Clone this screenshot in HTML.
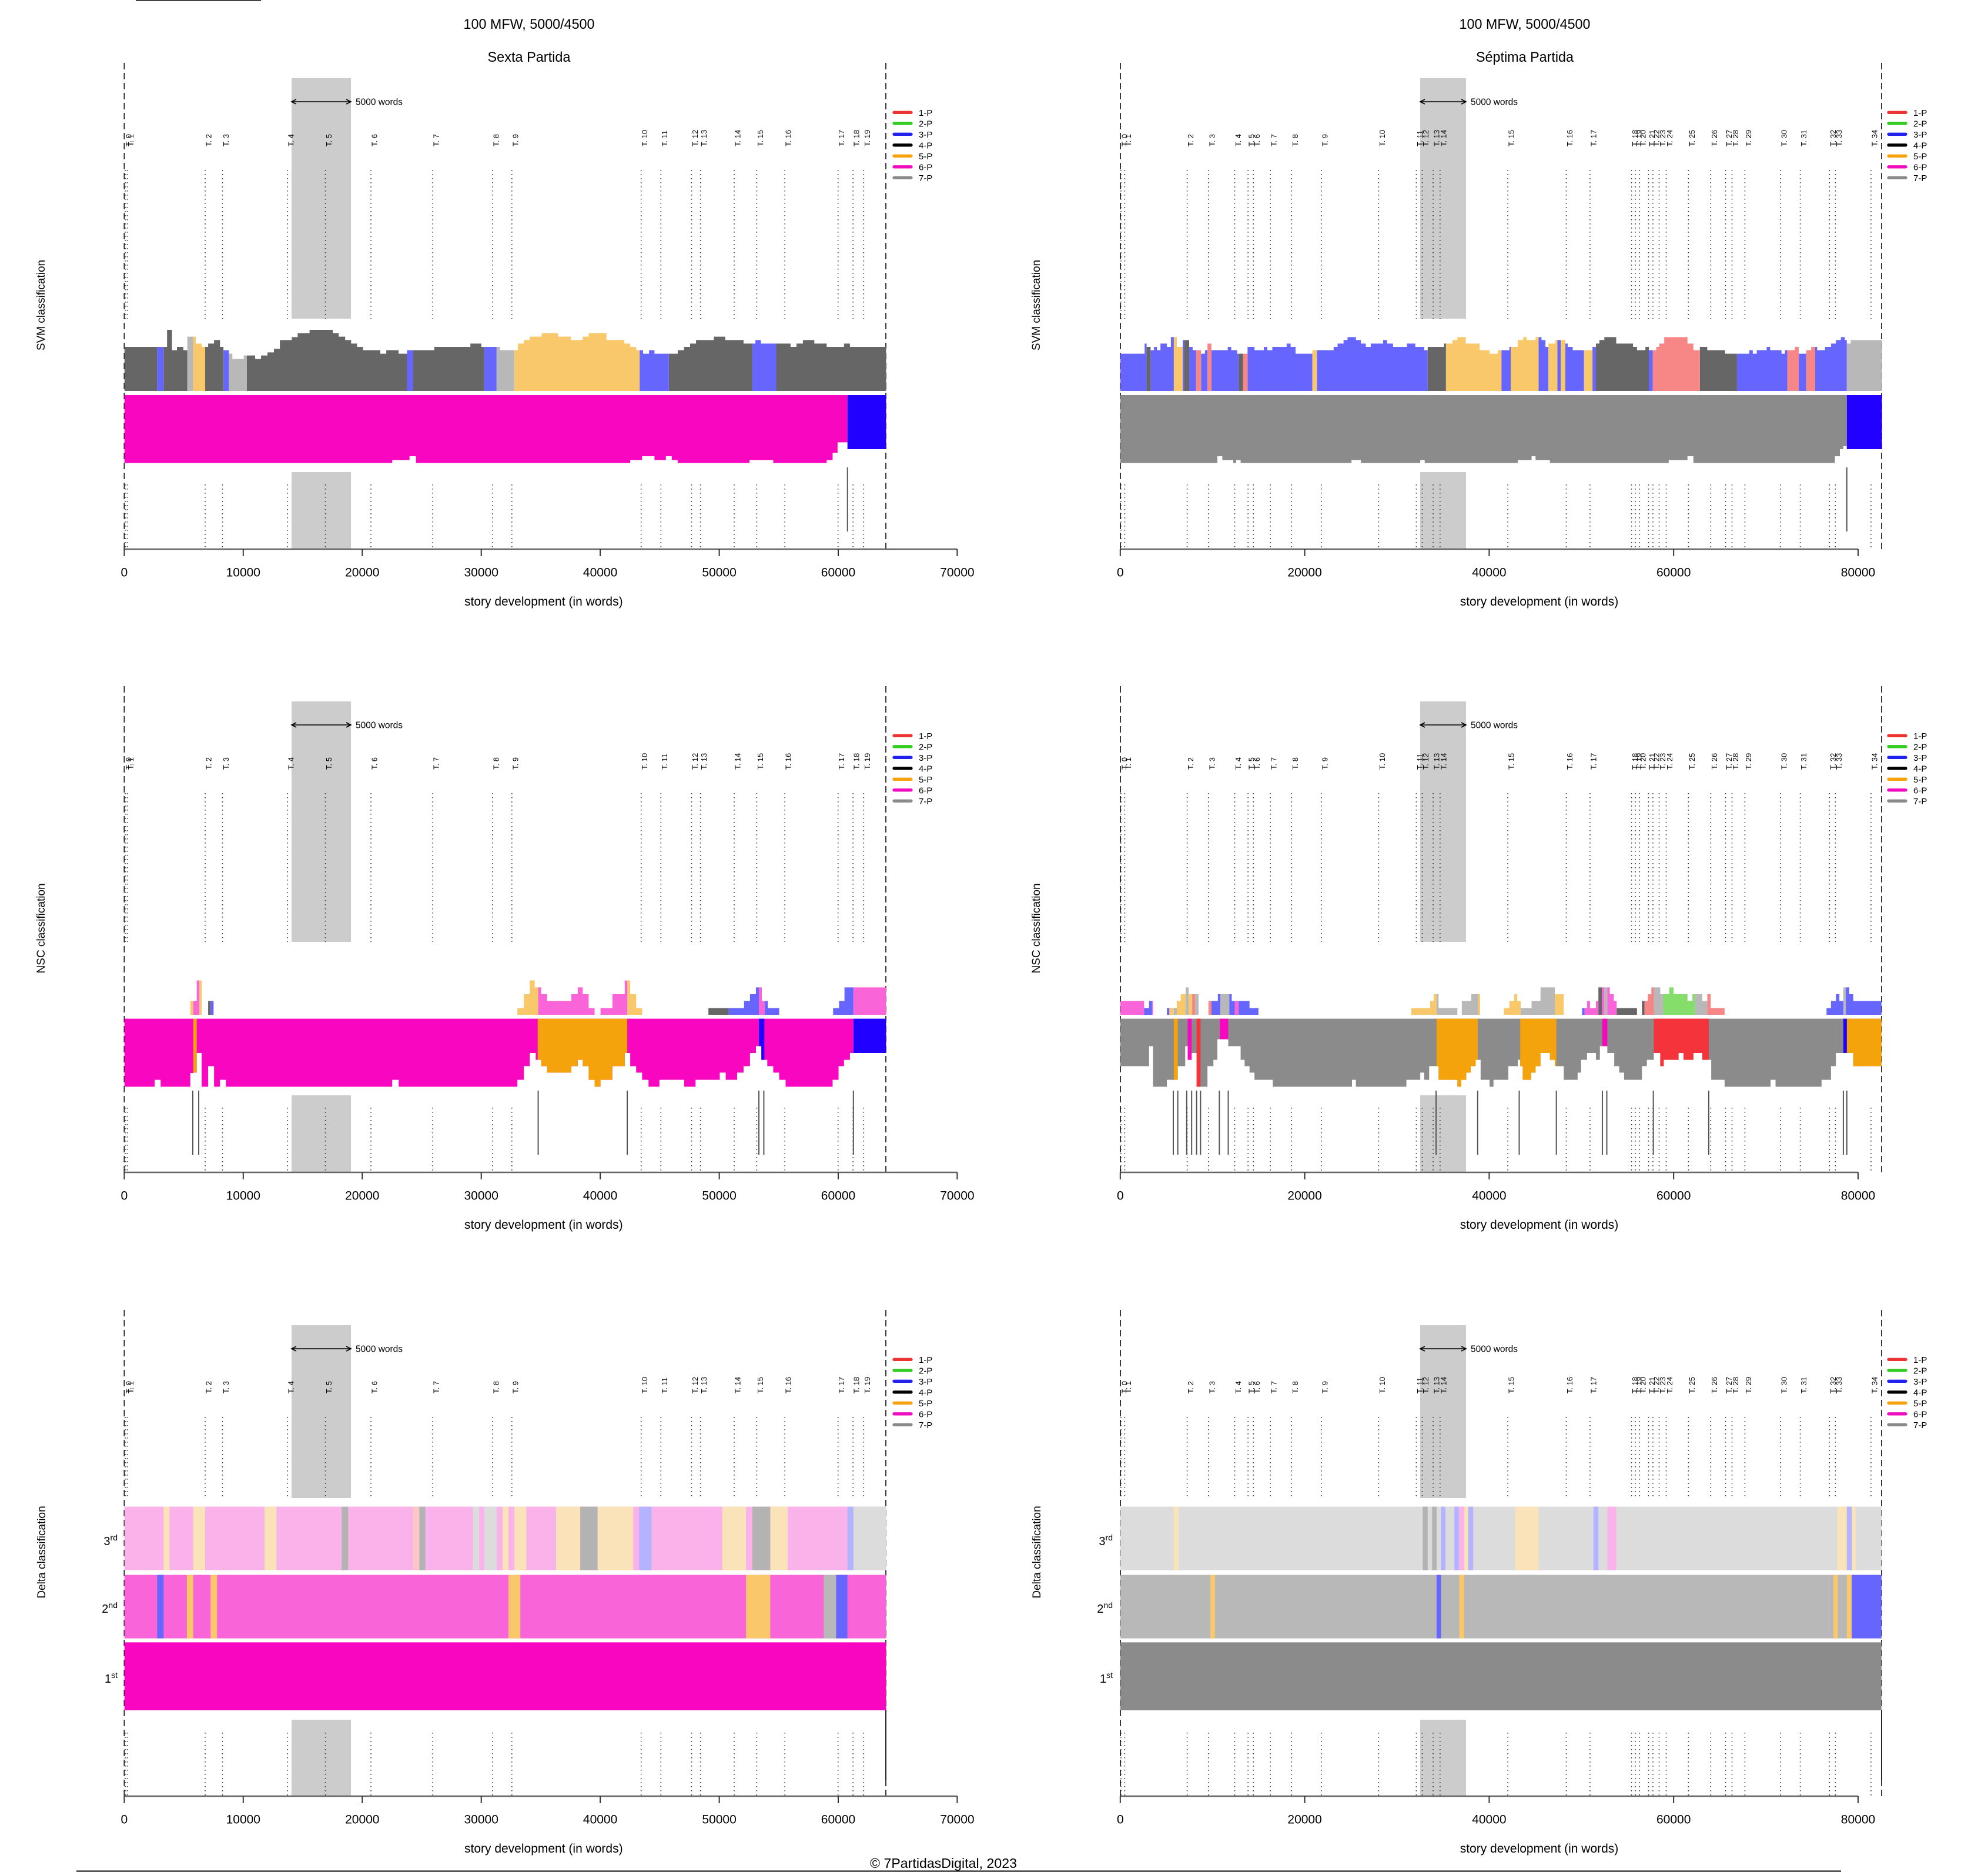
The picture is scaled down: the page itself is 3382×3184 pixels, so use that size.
<!DOCTYPE html>
<html><head><meta charset="utf-8"><style>
html,body{margin:0;padding:0;background:#fff}
svg{display:block}
svg text{font-family:"Liberation Sans",Arial,sans-serif;fill:#000}
.t{font-size:13px}
.tk{font-size:21px;text-anchor:middle}
.lg{font-size:15px}
.ax{font-size:21px;text-anchor:middle}
.yl{font-size:19px;text-anchor:middle}
</style></head><body>
<svg width="3382" height="3184" viewBox="0 0 3382 3184" xmlns="http://www.w3.org/2000/svg">
<rect x="0" y="0" width="3382" height="3184" fill="#fff"/>
<rect x="231" y="0" width="213" height="2" fill="#444"/>

<!-- titles -->
<text x="900" y="49" font-size="24" text-anchor="middle" textLength="223" lengthAdjust="spacingAndGlyphs">100 MFW, 5000/4500</text>
<text x="900" y="105" font-size="24" text-anchor="middle" textLength="141" lengthAdjust="spacingAndGlyphs">Sexta Partida</text>
<text x="2594" y="49" font-size="24" text-anchor="middle" textLength="223" lengthAdjust="spacingAndGlyphs">100 MFW, 5000/4500</text>
<text x="2594" y="105" font-size="24" text-anchor="middle" textLength="166" lengthAdjust="spacingAndGlyphs">Séptima Partida</text>

<!-- ROW 0 -->
<g>
<path fill="#cccccc" d="M496 133H597V542H496ZM496 803H597V934H496ZM2416 133H2494V542H2416ZM2416 803H2494V934H2416Z"/>
<path fill="none" stroke="#333" stroke-width="1.6" stroke-dasharray="1.6 5.4" d="M213 289V542M216.5 289V542M349 289V542M378.5 289V542M489 289V542M553.5 289V542M631 289V542M736.2 289V542M838.1 289V542M870.8 289V542M1090.7 289V542M1124.3 289V542M1176.5 289V542M1191.6 289V542M1249 289V542M1287.4 289V542M1335.2 289V542M1425.7 289V542M1451.2 289V542M1469.3 289V542M213 824V934M216.5 824V934M349 824V934M378.5 824V934M489 824V934M553.5 824V934M631 824V934M736.2 824V934M838.1 824V934M870.8 824V934M1090.7 824V934M1124.3 824V934M1176.5 824V934M1191.6 824V934M1249 824V934M1287.4 824V934M1335.2 824V934M1425.7 824V934M1451.2 824V934M1469.3 824V934M1907 289V542M1913.4 289V542M2019.6 289V542M2055.8 289V542M2100.5 289V542M2123.2 289V542M2132.4 289V542M2161.1 289V542M2197.3 289V542M2247.8 289V542M2345.4 289V542M2409.4 289V542M2419.5 289V542M2438 289V542M2449.8 289V542M2565.1 289V542M2664.5 289V542M2704.9 289V542M2775.6 289V542M2782 289V542M2789 289V542M2804.5 289V542M2812 289V542M2822.5 289V542M2834.5 289V542M2872.4 289V542M2910.3 289V542M2935.5 289V542M2946.5 289V542M2968.4 289V542M3029 289V542M3062.6 289V542M3112.3 289V542M3122.4 289V542M3183 289V542M1907 824V934M1913.4 824V934M2019.6 824V934M2055.8 824V934M2100.5 824V934M2123.2 824V934M2132.4 824V934M2161.1 824V934M2197.3 824V934M2247.8 824V934M2345.4 824V934M2409.4 824V934M2419.5 824V934M2438 824V934M2449.8 824V934M2565.1 824V934M2664.5 824V934M2704.9 824V934M2775.6 824V934M2782 824V934M2789 824V934M2804.5 824V934M2812 824V934M2822.5 824V934M2834.5 824V934M2872.4 824V934M2910.3 824V934M2935.5 824V934M2946.5 824V934M2968.4 824V934M3029 824V934M3062.6 824V934M3112.3 824V934M3122.4 824V934M3183 824V934"/>
<path fill="none" stroke="#222" stroke-width="1.8" stroke-dasharray="11 6" d="M211.4 107V934M1507 107V934M1906 107V934M3201 107V934"/>
<path fill="none" stroke="#000" stroke-width="1.6" d="M496 173H597M504 169L496 173L504 177M589 169L597 173L589 177M2416 173H2494M2424 169L2416 173L2424 177M2486 169L2494 173L2486 177"/>
<text x="605" y="178.5" font-size="16" textLength="80" lengthAdjust="spacingAndGlyphs">5000 words</text>
<text x="2502" y="178.5" font-size="16" textLength="80" lengthAdjust="spacingAndGlyphs">5000 words</text>
<g fill="none" stroke-width="5.3" stroke-linecap="round">
<path stroke="#ee3333" d="M1521 191.3H1550M3213 191.3H3242"/>
<path stroke="#33cc22" d="M1521 209.8H1550M3213 209.8H3242"/>
<path stroke="#2222ee" d="M1521 228.3H1550M3213 228.3H3242"/>
<path stroke="#000000" d="M1521 246.8H1550M3213 246.8H3242"/>
<path stroke="#f5a20c" d="M1521 265.3H1550M3213 265.3H3242"/>
<path stroke="#f00cc0" d="M1521 283.8H1550M3213 283.8H3242"/>
<path stroke="#8a8a8a" d="M1521 302.3H1550M3213 302.3H3242"/>
</g>
<text class="lg" x="1563" y="196.8">1-P</text><text class="lg" x="1563" y="215.3">2-P</text><text class="lg" x="1563" y="233.8">3-P</text><text class="lg" x="1563" y="252.3">4-P</text><text class="lg" x="1563" y="270.8">5-P</text><text class="lg" x="1563" y="289.3">6-P</text><text class="lg" x="1563" y="307.8">7-P</text>
<text class="lg" x="3255" y="196.8">1-P</text><text class="lg" x="3255" y="215.3">2-P</text><text class="lg" x="3255" y="233.8">3-P</text><text class="lg" x="3255" y="252.3">4-P</text><text class="lg" x="3255" y="270.8">5-P</text><text class="lg" x="3255" y="289.3">6-P</text><text class="lg" x="3255" y="307.8">7-P</text>
<text class="t" transform="translate(223.5,249) rotate(-90)">T. 0</text>
<text class="t" transform="translate(227,249) rotate(-90)">T. 1</text>
<text class="t" transform="translate(359.5,249) rotate(-90)">T. 2</text>
<text class="t" transform="translate(389,249) rotate(-90)">T. 3</text>
<text class="t" transform="translate(499.5,249) rotate(-90)">T. 4</text>
<text class="t" transform="translate(564,249) rotate(-90)">T. 5</text>
<text class="t" transform="translate(641.5,249) rotate(-90)">T. 6</text>
<text class="t" transform="translate(746.7,249) rotate(-90)">T. 7</text>
<text class="t" transform="translate(848.6,249) rotate(-90)">T. 8</text>
<text class="t" transform="translate(881.3,249) rotate(-90)">T. 9</text>
<text class="t" transform="translate(1101.2,249) rotate(-90)">T. 10</text>
<text class="t" transform="translate(1134.8,249) rotate(-90)">T. 11</text>
<text class="t" transform="translate(1187,249) rotate(-90)">T. 12</text>
<text class="t" transform="translate(1202.1,249) rotate(-90)">T. 13</text>
<text class="t" transform="translate(1259.5,249) rotate(-90)">T. 14</text>
<text class="t" transform="translate(1297.9,249) rotate(-90)">T. 15</text>
<text class="t" transform="translate(1345.7,249) rotate(-90)">T. 16</text>
<text class="t" transform="translate(1436.2,249) rotate(-90)">T. 17</text>
<text class="t" transform="translate(1461.7,249) rotate(-90)">T. 18</text>
<text class="t" transform="translate(1479.8,249) rotate(-90)">T. 19</text>
<text class="t" transform="translate(1917.5,249) rotate(-90)">T. 0</text>
<text class="t" transform="translate(1923.9,249) rotate(-90)">T. 1</text>
<text class="t" transform="translate(2030.1,249) rotate(-90)">T. 2</text>
<text class="t" transform="translate(2066.3,249) rotate(-90)">T. 3</text>
<text class="t" transform="translate(2111,249) rotate(-90)">T. 4</text>
<text class="t" transform="translate(2133.7,249) rotate(-90)">T. 5</text>
<text class="t" transform="translate(2142.9,249) rotate(-90)">T. 6</text>
<text class="t" transform="translate(2171.6,249) rotate(-90)">T. 7</text>
<text class="t" transform="translate(2207.8,249) rotate(-90)">T. 8</text>
<text class="t" transform="translate(2258.3,249) rotate(-90)">T. 9</text>
<text class="t" transform="translate(2355.9,249) rotate(-90)">T. 10</text>
<text class="t" transform="translate(2419.9,249) rotate(-90)">T. 11</text>
<text class="t" transform="translate(2430,249) rotate(-90)">T. 12</text>
<text class="t" transform="translate(2448.5,249) rotate(-90)">T. 13</text>
<text class="t" transform="translate(2460.3,249) rotate(-90)">T. 14</text>
<text class="t" transform="translate(2575.6,249) rotate(-90)">T. 15</text>
<text class="t" transform="translate(2675,249) rotate(-90)">T. 16</text>
<text class="t" transform="translate(2715.4,249) rotate(-90)">T. 17</text>
<text class="t" transform="translate(2786.1,249) rotate(-90)">T. 18</text>
<text class="t" transform="translate(2792.5,249) rotate(-90)">T. 19</text>
<text class="t" transform="translate(2799.5,249) rotate(-90)">T. 20</text>
<text class="t" transform="translate(2815,249) rotate(-90)">T. 21</text>
<text class="t" transform="translate(2822.5,249) rotate(-90)">T. 22</text>
<text class="t" transform="translate(2833,249) rotate(-90)">T. 23</text>
<text class="t" transform="translate(2845,249) rotate(-90)">T. 24</text>
<text class="t" transform="translate(2882.9,249) rotate(-90)">T. 25</text>
<text class="t" transform="translate(2920.8,249) rotate(-90)">T. 26</text>
<text class="t" transform="translate(2946,249) rotate(-90)">T. 27</text>
<text class="t" transform="translate(2957,249) rotate(-90)">T. 28</text>
<text class="t" transform="translate(2978.9,249) rotate(-90)">T. 29</text>
<text class="t" transform="translate(3039.5,249) rotate(-90)">T. 30</text>
<text class="t" transform="translate(3073.1,249) rotate(-90)">T. 31</text>
<text class="t" transform="translate(3122.8,249) rotate(-90)">T. 32</text>
<text class="t" transform="translate(3132.9,249) rotate(-90)">T. 33</text>
<text class="t" transform="translate(3193.5,249) rotate(-90)">T. 34</text>
<path fill="none" stroke="#666" stroke-width="2.5" d="M211.4 934H1628.4M1905.8 934H3161"/>
<path fill="none" stroke="#333" stroke-width="2" d="M211.4 934v12M413.8 934v12M616.3 934v12M818.7 934v12M1021.1 934v12M1223.6 934v12M1426 934v12M1628.4 934v12M1905.8 934v12M2219.6 934v12M2533.4 934v12M2847.2 934v12M3161 934v12"/>
<text class="tk" x="211.4" y="980.5">0</text><text class="tk" x="413.8" y="980.5">10000</text><text class="tk" x="616.3" y="980.5">20000</text><text class="tk" x="818.7" y="980.5">30000</text><text class="tk" x="1021.1" y="980.5">40000</text><text class="tk" x="1223.6" y="980.5">50000</text><text class="tk" x="1426" y="980.5">60000</text><text class="tk" x="1628.4" y="980.5">70000</text>
<text class="tk" x="1905.8" y="980.5">0</text><text class="tk" x="2219.6" y="980.5">20000</text><text class="tk" x="2533.4" y="980.5">40000</text><text class="tk" x="2847.2" y="980.5">60000</text><text class="tk" x="3161" y="980.5">80000</text>
<text class="ax" x="924.8" y="1030">story development (in words)</text>
<text class="ax" x="2618.5" y="1030">story development (in words)</text>
<text class="yl" transform="translate(76,519) rotate(-90)">SVM classification</text>
<text class="yl" transform="translate(1769,519) rotate(-90)">SVM classification</text>
</g>

<!-- ROW 1 -->
<g transform="translate(0,1060)">
<path fill="#cccccc" d="M496 133H597V542H496ZM496 803H597V934H496ZM2416 133H2494V542H2416ZM2416 803H2494V934H2416Z"/>
<path fill="none" stroke="#333" stroke-width="1.6" stroke-dasharray="1.6 5.4" d="M213 289V542M216.5 289V542M349 289V542M378.5 289V542M489 289V542M553.5 289V542M631 289V542M736.2 289V542M838.1 289V542M870.8 289V542M1090.7 289V542M1124.3 289V542M1176.5 289V542M1191.6 289V542M1249 289V542M1287.4 289V542M1335.2 289V542M1425.7 289V542M1451.2 289V542M1469.3 289V542M213 824V934M216.5 824V934M349 824V934M378.5 824V934M489 824V934M553.5 824V934M631 824V934M736.2 824V934M838.1 824V934M870.8 824V934M1090.7 824V934M1124.3 824V934M1176.5 824V934M1191.6 824V934M1249 824V934M1287.4 824V934M1335.2 824V934M1425.7 824V934M1451.2 824V934M1469.3 824V934M1907 289V542M1913.4 289V542M2019.6 289V542M2055.8 289V542M2100.5 289V542M2123.2 289V542M2132.4 289V542M2161.1 289V542M2197.3 289V542M2247.8 289V542M2345.4 289V542M2409.4 289V542M2419.5 289V542M2438 289V542M2449.8 289V542M2565.1 289V542M2664.5 289V542M2704.9 289V542M2775.6 289V542M2782 289V542M2789 289V542M2804.5 289V542M2812 289V542M2822.5 289V542M2834.5 289V542M2872.4 289V542M2910.3 289V542M2935.5 289V542M2946.5 289V542M2968.4 289V542M3029 289V542M3062.6 289V542M3112.3 289V542M3122.4 289V542M3183 289V542M1907 824V934M1913.4 824V934M2019.6 824V934M2055.8 824V934M2100.5 824V934M2123.2 824V934M2132.4 824V934M2161.1 824V934M2197.3 824V934M2247.8 824V934M2345.4 824V934M2409.4 824V934M2419.5 824V934M2438 824V934M2449.8 824V934M2565.1 824V934M2664.5 824V934M2704.9 824V934M2775.6 824V934M2782 824V934M2789 824V934M2804.5 824V934M2812 824V934M2822.5 824V934M2834.5 824V934M2872.4 824V934M2910.3 824V934M2935.5 824V934M2946.5 824V934M2968.4 824V934M3029 824V934M3062.6 824V934M3112.3 824V934M3122.4 824V934M3183 824V934"/>
<path fill="none" stroke="#222" stroke-width="1.8" stroke-dasharray="11 6" d="M211.4 107V934M1507 107V934M1906 107V934M3201 107V934"/>
<path fill="none" stroke="#000" stroke-width="1.6" d="M496 173H597M504 169L496 173L504 177M589 169L597 173L589 177M2416 173H2494M2424 169L2416 173L2424 177M2486 169L2494 173L2486 177"/>
<text x="605" y="178.5" font-size="16" textLength="80" lengthAdjust="spacingAndGlyphs">5000 words</text>
<text x="2502" y="178.5" font-size="16" textLength="80" lengthAdjust="spacingAndGlyphs">5000 words</text>
<g fill="none" stroke-width="5.3" stroke-linecap="round">
<path stroke="#ee3333" d="M1521 191.3H1550M3213 191.3H3242"/>
<path stroke="#33cc22" d="M1521 209.8H1550M3213 209.8H3242"/>
<path stroke="#2222ee" d="M1521 228.3H1550M3213 228.3H3242"/>
<path stroke="#000000" d="M1521 246.8H1550M3213 246.8H3242"/>
<path stroke="#f5a20c" d="M1521 265.3H1550M3213 265.3H3242"/>
<path stroke="#f00cc0" d="M1521 283.8H1550M3213 283.8H3242"/>
<path stroke="#8a8a8a" d="M1521 302.3H1550M3213 302.3H3242"/>
</g>
<text class="lg" x="1563" y="196.8">1-P</text><text class="lg" x="1563" y="215.3">2-P</text><text class="lg" x="1563" y="233.8">3-P</text><text class="lg" x="1563" y="252.3">4-P</text><text class="lg" x="1563" y="270.8">5-P</text><text class="lg" x="1563" y="289.3">6-P</text><text class="lg" x="1563" y="307.8">7-P</text>
<text class="lg" x="3255" y="196.8">1-P</text><text class="lg" x="3255" y="215.3">2-P</text><text class="lg" x="3255" y="233.8">3-P</text><text class="lg" x="3255" y="252.3">4-P</text><text class="lg" x="3255" y="270.8">5-P</text><text class="lg" x="3255" y="289.3">6-P</text><text class="lg" x="3255" y="307.8">7-P</text>
<text class="t" transform="translate(223.5,249) rotate(-90)">T. 0</text>
<text class="t" transform="translate(227,249) rotate(-90)">T. 1</text>
<text class="t" transform="translate(359.5,249) rotate(-90)">T. 2</text>
<text class="t" transform="translate(389,249) rotate(-90)">T. 3</text>
<text class="t" transform="translate(499.5,249) rotate(-90)">T. 4</text>
<text class="t" transform="translate(564,249) rotate(-90)">T. 5</text>
<text class="t" transform="translate(641.5,249) rotate(-90)">T. 6</text>
<text class="t" transform="translate(746.7,249) rotate(-90)">T. 7</text>
<text class="t" transform="translate(848.6,249) rotate(-90)">T. 8</text>
<text class="t" transform="translate(881.3,249) rotate(-90)">T. 9</text>
<text class="t" transform="translate(1101.2,249) rotate(-90)">T. 10</text>
<text class="t" transform="translate(1134.8,249) rotate(-90)">T. 11</text>
<text class="t" transform="translate(1187,249) rotate(-90)">T. 12</text>
<text class="t" transform="translate(1202.1,249) rotate(-90)">T. 13</text>
<text class="t" transform="translate(1259.5,249) rotate(-90)">T. 14</text>
<text class="t" transform="translate(1297.9,249) rotate(-90)">T. 15</text>
<text class="t" transform="translate(1345.7,249) rotate(-90)">T. 16</text>
<text class="t" transform="translate(1436.2,249) rotate(-90)">T. 17</text>
<text class="t" transform="translate(1461.7,249) rotate(-90)">T. 18</text>
<text class="t" transform="translate(1479.8,249) rotate(-90)">T. 19</text>
<text class="t" transform="translate(1917.5,249) rotate(-90)">T. 0</text>
<text class="t" transform="translate(1923.9,249) rotate(-90)">T. 1</text>
<text class="t" transform="translate(2030.1,249) rotate(-90)">T. 2</text>
<text class="t" transform="translate(2066.3,249) rotate(-90)">T. 3</text>
<text class="t" transform="translate(2111,249) rotate(-90)">T. 4</text>
<text class="t" transform="translate(2133.7,249) rotate(-90)">T. 5</text>
<text class="t" transform="translate(2142.9,249) rotate(-90)">T. 6</text>
<text class="t" transform="translate(2171.6,249) rotate(-90)">T. 7</text>
<text class="t" transform="translate(2207.8,249) rotate(-90)">T. 8</text>
<text class="t" transform="translate(2258.3,249) rotate(-90)">T. 9</text>
<text class="t" transform="translate(2355.9,249) rotate(-90)">T. 10</text>
<text class="t" transform="translate(2419.9,249) rotate(-90)">T. 11</text>
<text class="t" transform="translate(2430,249) rotate(-90)">T. 12</text>
<text class="t" transform="translate(2448.5,249) rotate(-90)">T. 13</text>
<text class="t" transform="translate(2460.3,249) rotate(-90)">T. 14</text>
<text class="t" transform="translate(2575.6,249) rotate(-90)">T. 15</text>
<text class="t" transform="translate(2675,249) rotate(-90)">T. 16</text>
<text class="t" transform="translate(2715.4,249) rotate(-90)">T. 17</text>
<text class="t" transform="translate(2786.1,249) rotate(-90)">T. 18</text>
<text class="t" transform="translate(2792.5,249) rotate(-90)">T. 19</text>
<text class="t" transform="translate(2799.5,249) rotate(-90)">T. 20</text>
<text class="t" transform="translate(2815,249) rotate(-90)">T. 21</text>
<text class="t" transform="translate(2822.5,249) rotate(-90)">T. 22</text>
<text class="t" transform="translate(2833,249) rotate(-90)">T. 23</text>
<text class="t" transform="translate(2845,249) rotate(-90)">T. 24</text>
<text class="t" transform="translate(2882.9,249) rotate(-90)">T. 25</text>
<text class="t" transform="translate(2920.8,249) rotate(-90)">T. 26</text>
<text class="t" transform="translate(2946,249) rotate(-90)">T. 27</text>
<text class="t" transform="translate(2957,249) rotate(-90)">T. 28</text>
<text class="t" transform="translate(2978.9,249) rotate(-90)">T. 29</text>
<text class="t" transform="translate(3039.5,249) rotate(-90)">T. 30</text>
<text class="t" transform="translate(3073.1,249) rotate(-90)">T. 31</text>
<text class="t" transform="translate(3122.8,249) rotate(-90)">T. 32</text>
<text class="t" transform="translate(3132.9,249) rotate(-90)">T. 33</text>
<text class="t" transform="translate(3193.5,249) rotate(-90)">T. 34</text>
<path fill="none" stroke="#666" stroke-width="2.5" d="M211.4 934H1628.4M1905.8 934H3161"/>
<path fill="none" stroke="#333" stroke-width="2" d="M211.4 934v12M413.8 934v12M616.3 934v12M818.7 934v12M1021.1 934v12M1223.6 934v12M1426 934v12M1628.4 934v12M1905.8 934v12M2219.6 934v12M2533.4 934v12M2847.2 934v12M3161 934v12"/>
<text class="tk" x="211.4" y="980.5">0</text><text class="tk" x="413.8" y="980.5">10000</text><text class="tk" x="616.3" y="980.5">20000</text><text class="tk" x="818.7" y="980.5">30000</text><text class="tk" x="1021.1" y="980.5">40000</text><text class="tk" x="1223.6" y="980.5">50000</text><text class="tk" x="1426" y="980.5">60000</text><text class="tk" x="1628.4" y="980.5">70000</text>
<text class="tk" x="1905.8" y="980.5">0</text><text class="tk" x="2219.6" y="980.5">20000</text><text class="tk" x="2533.4" y="980.5">40000</text><text class="tk" x="2847.2" y="980.5">60000</text><text class="tk" x="3161" y="980.5">80000</text>
<text class="ax" x="924.8" y="1030">story development (in words)</text>
<text class="ax" x="2618.5" y="1030">story development (in words)</text>
<text class="yl" transform="translate(76,519) rotate(-90)">NSC classification</text>
<text class="yl" transform="translate(1769,519) rotate(-90)">NSC classification</text>
</g>

<!-- ROW 2 -->
<g transform="translate(0,2121)">
<path fill="#cccccc" d="M496 133H597V427H496ZM496 804H597V934H496ZM2416 133H2494V427H2416ZM2416 804H2494V934H2416Z"/>
<path fill="none" stroke="#333" stroke-width="1.6" stroke-dasharray="1.6 5.4" d="M213 289V427M216.5 289V427M349 289V427M378.5 289V427M489 289V427M553.5 289V427M631 289V427M736.2 289V427M838.1 289V427M870.8 289V427M1090.7 289V427M1124.3 289V427M1176.5 289V427M1191.6 289V427M1249 289V427M1287.4 289V427M1335.2 289V427M1425.7 289V427M1451.2 289V427M1469.3 289V427M213 826V934M216.5 826V934M349 826V934M378.5 826V934M489 826V934M553.5 826V934M631 826V934M736.2 826V934M838.1 826V934M870.8 826V934M1090.7 826V934M1124.3 826V934M1176.5 826V934M1191.6 826V934M1249 826V934M1287.4 826V934M1335.2 826V934M1425.7 826V934M1451.2 826V934M1469.3 826V934M1907 289V427M1913.4 289V427M2019.6 289V427M2055.8 289V427M2100.5 289V427M2123.2 289V427M2132.4 289V427M2161.1 289V427M2197.3 289V427M2247.8 289V427M2345.4 289V427M2409.4 289V427M2419.5 289V427M2438 289V427M2449.8 289V427M2565.1 289V427M2664.5 289V427M2704.9 289V427M2775.6 289V427M2782 289V427M2789 289V427M2804.5 289V427M2812 289V427M2822.5 289V427M2834.5 289V427M2872.4 289V427M2910.3 289V427M2935.5 289V427M2946.5 289V427M2968.4 289V427M3029 289V427M3062.6 289V427M3112.3 289V427M3122.4 289V427M3183 289V427M1907 826V934M1913.4 826V934M2019.6 826V934M2055.8 826V934M2100.5 826V934M2123.2 826V934M2132.4 826V934M2161.1 826V934M2197.3 826V934M2247.8 826V934M2345.4 826V934M2409.4 826V934M2419.5 826V934M2438 826V934M2449.8 826V934M2565.1 826V934M2664.5 826V934M2704.9 826V934M2775.6 826V934M2782 826V934M2789 826V934M2804.5 826V934M2812 826V934M2822.5 826V934M2834.5 826V934M2872.4 826V934M2910.3 826V934M2935.5 826V934M2946.5 826V934M2968.4 826V934M3029 826V934M3062.6 826V934M3112.3 826V934M3122.4 826V934M3183 826V934"/>
<path fill="none" stroke="#222" stroke-width="1.8" stroke-dasharray="11 6" d="M211.4 107V934M1507 107V934M1906 107V934M3201 107V934"/>
<path fill="none" stroke="#000" stroke-width="1.6" d="M496 173H597M504 169L496 173L504 177M589 169L597 173L589 177M2416 173H2494M2424 169L2416 173L2424 177M2486 169L2494 173L2486 177"/>
<text x="605" y="178.5" font-size="16" textLength="80" lengthAdjust="spacingAndGlyphs">5000 words</text>
<text x="2502" y="178.5" font-size="16" textLength="80" lengthAdjust="spacingAndGlyphs">5000 words</text>
<g fill="none" stroke-width="5.3" stroke-linecap="round">
<path stroke="#ee3333" d="M1521 191.3H1550M3213 191.3H3242"/>
<path stroke="#33cc22" d="M1521 209.8H1550M3213 209.8H3242"/>
<path stroke="#2222ee" d="M1521 228.3H1550M3213 228.3H3242"/>
<path stroke="#000000" d="M1521 246.8H1550M3213 246.8H3242"/>
<path stroke="#f5a20c" d="M1521 265.3H1550M3213 265.3H3242"/>
<path stroke="#f00cc0" d="M1521 283.8H1550M3213 283.8H3242"/>
<path stroke="#8a8a8a" d="M1521 302.3H1550M3213 302.3H3242"/>
</g>
<text class="lg" x="1563" y="196.8">1-P</text><text class="lg" x="1563" y="215.3">2-P</text><text class="lg" x="1563" y="233.8">3-P</text><text class="lg" x="1563" y="252.3">4-P</text><text class="lg" x="1563" y="270.8">5-P</text><text class="lg" x="1563" y="289.3">6-P</text><text class="lg" x="1563" y="307.8">7-P</text>
<text class="lg" x="3255" y="196.8">1-P</text><text class="lg" x="3255" y="215.3">2-P</text><text class="lg" x="3255" y="233.8">3-P</text><text class="lg" x="3255" y="252.3">4-P</text><text class="lg" x="3255" y="270.8">5-P</text><text class="lg" x="3255" y="289.3">6-P</text><text class="lg" x="3255" y="307.8">7-P</text>
<text class="t" transform="translate(223.5,249) rotate(-90)">T. 0</text>
<text class="t" transform="translate(227,249) rotate(-90)">T. 1</text>
<text class="t" transform="translate(359.5,249) rotate(-90)">T. 2</text>
<text class="t" transform="translate(389,249) rotate(-90)">T. 3</text>
<text class="t" transform="translate(499.5,249) rotate(-90)">T. 4</text>
<text class="t" transform="translate(564,249) rotate(-90)">T. 5</text>
<text class="t" transform="translate(641.5,249) rotate(-90)">T. 6</text>
<text class="t" transform="translate(746.7,249) rotate(-90)">T. 7</text>
<text class="t" transform="translate(848.6,249) rotate(-90)">T. 8</text>
<text class="t" transform="translate(881.3,249) rotate(-90)">T. 9</text>
<text class="t" transform="translate(1101.2,249) rotate(-90)">T. 10</text>
<text class="t" transform="translate(1134.8,249) rotate(-90)">T. 11</text>
<text class="t" transform="translate(1187,249) rotate(-90)">T. 12</text>
<text class="t" transform="translate(1202.1,249) rotate(-90)">T. 13</text>
<text class="t" transform="translate(1259.5,249) rotate(-90)">T. 14</text>
<text class="t" transform="translate(1297.9,249) rotate(-90)">T. 15</text>
<text class="t" transform="translate(1345.7,249) rotate(-90)">T. 16</text>
<text class="t" transform="translate(1436.2,249) rotate(-90)">T. 17</text>
<text class="t" transform="translate(1461.7,249) rotate(-90)">T. 18</text>
<text class="t" transform="translate(1479.8,249) rotate(-90)">T. 19</text>
<text class="t" transform="translate(1917.5,249) rotate(-90)">T. 0</text>
<text class="t" transform="translate(1923.9,249) rotate(-90)">T. 1</text>
<text class="t" transform="translate(2030.1,249) rotate(-90)">T. 2</text>
<text class="t" transform="translate(2066.3,249) rotate(-90)">T. 3</text>
<text class="t" transform="translate(2111,249) rotate(-90)">T. 4</text>
<text class="t" transform="translate(2133.7,249) rotate(-90)">T. 5</text>
<text class="t" transform="translate(2142.9,249) rotate(-90)">T. 6</text>
<text class="t" transform="translate(2171.6,249) rotate(-90)">T. 7</text>
<text class="t" transform="translate(2207.8,249) rotate(-90)">T. 8</text>
<text class="t" transform="translate(2258.3,249) rotate(-90)">T. 9</text>
<text class="t" transform="translate(2355.9,249) rotate(-90)">T. 10</text>
<text class="t" transform="translate(2419.9,249) rotate(-90)">T. 11</text>
<text class="t" transform="translate(2430,249) rotate(-90)">T. 12</text>
<text class="t" transform="translate(2448.5,249) rotate(-90)">T. 13</text>
<text class="t" transform="translate(2460.3,249) rotate(-90)">T. 14</text>
<text class="t" transform="translate(2575.6,249) rotate(-90)">T. 15</text>
<text class="t" transform="translate(2675,249) rotate(-90)">T. 16</text>
<text class="t" transform="translate(2715.4,249) rotate(-90)">T. 17</text>
<text class="t" transform="translate(2786.1,249) rotate(-90)">T. 18</text>
<text class="t" transform="translate(2792.5,249) rotate(-90)">T. 19</text>
<text class="t" transform="translate(2799.5,249) rotate(-90)">T. 20</text>
<text class="t" transform="translate(2815,249) rotate(-90)">T. 21</text>
<text class="t" transform="translate(2822.5,249) rotate(-90)">T. 22</text>
<text class="t" transform="translate(2833,249) rotate(-90)">T. 23</text>
<text class="t" transform="translate(2845,249) rotate(-90)">T. 24</text>
<text class="t" transform="translate(2882.9,249) rotate(-90)">T. 25</text>
<text class="t" transform="translate(2920.8,249) rotate(-90)">T. 26</text>
<text class="t" transform="translate(2946,249) rotate(-90)">T. 27</text>
<text class="t" transform="translate(2957,249) rotate(-90)">T. 28</text>
<text class="t" transform="translate(2978.9,249) rotate(-90)">T. 29</text>
<text class="t" transform="translate(3039.5,249) rotate(-90)">T. 30</text>
<text class="t" transform="translate(3073.1,249) rotate(-90)">T. 31</text>
<text class="t" transform="translate(3122.8,249) rotate(-90)">T. 32</text>
<text class="t" transform="translate(3132.9,249) rotate(-90)">T. 33</text>
<text class="t" transform="translate(3193.5,249) rotate(-90)">T. 34</text>
<path fill="none" stroke="#666" stroke-width="2.5" d="M211.4 934H1628.4M1905.8 934H3161"/>
<path fill="none" stroke="#333" stroke-width="2" d="M211.4 934v12M413.8 934v12M616.3 934v12M818.7 934v12M1021.1 934v12M1223.6 934v12M1426 934v12M1628.4 934v12M1905.8 934v12M2219.6 934v12M2533.4 934v12M2847.2 934v12M3161 934v12"/>
<text class="tk" x="211.4" y="980.5">0</text><text class="tk" x="413.8" y="980.5">10000</text><text class="tk" x="616.3" y="980.5">20000</text><text class="tk" x="818.7" y="980.5">30000</text><text class="tk" x="1021.1" y="980.5">40000</text><text class="tk" x="1223.6" y="980.5">50000</text><text class="tk" x="1426" y="980.5">60000</text><text class="tk" x="1628.4" y="980.5">70000</text>
<text class="tk" x="1905.8" y="980.5">0</text><text class="tk" x="2219.6" y="980.5">20000</text><text class="tk" x="2533.4" y="980.5">40000</text><text class="tk" x="2847.2" y="980.5">60000</text><text class="tk" x="3161" y="980.5">80000</text>
<text class="ax" x="924.8" y="1030">story development (in words)</text>
<text class="ax" x="2618.5" y="1030">story development (in words)</text>
<text class="yl" transform="translate(77,519) rotate(-90)">Delta classification</text>
<text class="yl" transform="translate(1770,519) rotate(-90)">Delta classification</text>
</g>

<!-- TL SVM -->
<g transform="translate(200,540) scale(0.84183,0.33333)">
<path fill="#666666" d="M14 375V150H80V375ZM93 375V150H100V63H110V167H120V150H133V167H141V375ZM177 375V150H183V133H195V115H207V150H214V375ZM261 375V194H278V212H290V194H303V178H316V160H328V115H352V100H364V80H388V63H435V80H447V98H460V115H472V133H484V150H496V167H531V185H543V167H568V185H585V375ZM597 375V167H640V150H713V133H735V150H741V375ZM1114 375V185H1132V167H1145V150H1157V133H1169V115H1205V98H1228V115H1265V133H1283V375ZM1331 375V133H1360V150H1372V133H1385V115H1408V133H1433V150H1468V133H1480V150H1553V375Z"/>
<path fill="#6666ff" d="M80 375V150H93V375ZM214 375V167H225V375ZM585 375V167H597V375ZM741 375V150H766V375ZM1055 375V167H1062V185H1074V167H1085V185H1114V375ZM1283 375V133H1289V115H1300V133H1331V375Z"/>
<path fill="#b8b8b8" d="M141 375V98H153V375ZM225 375V185H232V212H255V194H261V375ZM766 375V150H773V167H802V375Z"/>
<path fill="#f9c86b" d="M153 375V98H158V133H170V150H177V375ZM802 375V167H809V133H821V115H833V98H857V80H890V98H916V115H940V98H952V80H988V115H1024V133H1036V150H1048V167H1055V375Z"/>
<path fill="#f806c0" d="M14 396H1475V637H1455V690H1445V727H1433V742H1325V727H1277V742H1132V727H1120V708H1108V727H1085V708H1060V727H1036V742H603V708H590V727H555V742H14Z"/>
<path fill="#2200ff" d="M1475 396H1553V672H1475Z"/>
<path fill="none" stroke="#555" stroke-width="2" vector-effect="non-scaling-stroke" d="M1475 765V1092"/>
</g>

<!-- TR SVM -->
<g transform="translate(1890,540) scale(0.84183,0.33333)">
<path fill="#6666ff" d="M19 375V185H68V133H72V375ZM80 375V167H87V150H93V167H100V133H113V150H121V100H127V375ZM145 375V115H148V375ZM158 375V150H165V167H172V375ZM182 375V185H190V167H195V375ZM203 375V167H236V150H243V167H255V185H258V375ZM276 375V150H290V167H309V150H316V167H326V150H355V133H363V150H373V185H407V375ZM416 375V167H450V150H458V133H470V115H478V100H495V115H505V133H515V150H525V133H550V115H558V133H570V150H598V133H615V150H633V167H640V375ZM789 375V167H805V150H808V375ZM864 375V100H870V115H878V150H884V375ZM902 375V115H909V375ZM918 375V133H923V150H933V167H956V375ZM973 375V150H980V375ZM1087 375V167H1095V375ZM1265 375V185H1290V167H1297V185H1305V167H1325V150H1332V167H1355V185H1362V167H1367V375ZM1390 375V185H1405V375ZM1423 375V150H1427V167H1443V150H1455V133H1465V115H1475V100H1483V115H1487V375Z"/>
<path fill="#666666" d="M72 375V150H80V375ZM148 375V115H158V375ZM258 375V185H267V375ZM640 375V150H673V133H677V375ZM980 375V133H987V115H997V100H1021V133H1055V150H1063V167H1080V150H1087V375ZM1190 375V150H1205V167H1241V185H1265V375Z"/>
<path fill="#f9c86b" d="M127 375V100H133V150H145V375ZM407 375V167H416V375ZM677 375V133H690V115H700V100H717V133H745V167H765V185H782V167H789V375ZM808 375V150H822V115H833V100H840V115H858V100H864V375ZM884 375V133H898V115H902V375ZM909 375V115H918V375ZM956 375V167H973V375Z"/>
<path fill="#f78787" d="M172 375V167H182V375ZM195 375V133H203V375ZM267 375V185H276V375ZM1095 375V167H1102V150H1108V133H1118V100H1165V133H1177V167H1190V375ZM1367 375V167H1382V150H1390V375ZM1405 375V167H1415V150H1423V375Z"/>
<path fill="#b8b8b8" d="M1487 375V133H1495V115H1558V375Z"/>
<path fill="#8b8b8b" d="M19 396H1487V657H1480V672H1473V708H1463V742H1177V708H1165V727H1127V742H887V727H858V708H850V727H822V742H634V727H625V742H505V727H486V742H262V727H253V742H247V727H225V708H215V742H19Z"/>
<path fill="#2200ff" d="M1487 396H1558V672H1487Z"/>
<path fill="none" stroke="#555" stroke-width="2" vector-effect="non-scaling-stroke" d="M1487 765V1092"/>
</g>

<!-- ML NSC -->
<g transform="translate(200,1640) scale(0.84183,0.33333)">
<path fill="#f9c86b" d="M147 258V188H153V258ZM165 258V83H170V258ZM808 258V224H821V153H833V83H843V118H850V258ZM1030 258V83H1036V153H1048V224H1060V258Z"/>
<path fill="#f964d8" d="M153 258V188H160V83H165V258ZM850 258V118H856V153H868V188H917V153H930V118H940V153H952V224H964V258ZM976 258V224H1000V153H1025V83H1030V258ZM1296 258V118H1302V188H1308V258ZM1487 258V118H1553V258Z"/>
<path fill="#666666" d="M183 258V188H188V258ZM1194 258V224H1235V258Z"/>
<path fill="#6666ff" d="M188 258V188H194V258ZM1235 258V224H1266V188H1278V153H1290V118H1296V258ZM1308 258V188H1314V224H1337V258ZM1446 258V224H1458V188H1469V118H1487V258Z"/>
<path fill="#f806c0" d="M14 278H1487V453H1480V488H1468V520H1457V590H1445V625H1350V590H1337V553H1325V520H1313V488H1301V418H1290V453H1278V520H1265V553H1252V590H1229V553H1217V590H1168V625H1145V590H1095V625H1073V590H1060V553H1048V520H1036V453H1025V520H1000V590H976V625H964V590H952V520H940V488H930V520H917V553H868V520H856V488H845V453H833V520H821V590H808V625H568V590H555V625H219V590H207V625H195V520H183V625H170V453H160V553H153V555H147V625H87V590H75V625H14Z"/>
<path fill="#f5a30c" d="M153 278H160V553H153ZM849 278H1030V453H1025V520H1000V590H976V625H964V590H952V520H940V488H930V520H917V553H868V520H856V488H849Z"/>
<path fill="#2200ff" d="M1296 278H1301V418H1296ZM1301 278H1307V488H1301ZM1487 278H1553V453H1487Z"/>
<path fill="none" stroke="#555" stroke-width="2" vector-effect="non-scaling-stroke" d="M152 645V972M164 645V972M850 645V972M1030 645V972M1296 645V972M1306 645V972M1487 645V972"/>
</g>

<!-- MR NSC -->
<g transform="translate(1890,1640) scale(0.84183,0.33333)">
<path fill="#f964d8" d="M19 258V188H67V258ZM83 258V188H85V258ZM250 258V188H258V258ZM957 258V224H962V188H968V224H980V188H985V258ZM992 258V118H997V258ZM1003 258V118H1008V153H1016V188H1022V258Z"/>
<path fill="#6666ff" d="M67 258V224H77V188H83V258ZM113 258V224H118V258ZM203 258V188H216V153H221V258ZM239 258V153H244V188H250V258ZM258 258V188H280V224H298V258ZM952 258V224H957V258ZM1446 258V224H1455V188H1465V153H1472V188H1480V258ZM1485 258V118H1492V153H1500V188H1557V258Z"/>
<path fill="#f9c86b" d="M118 258V224H127V258ZM133 258V188H141V153H151V258ZM157 258V153H164V258ZM607 258V224H645V188H652V153H658V258ZM742 258V153H746V258ZM794 258V224H805V188H815V153H821V188H828V258ZM897 258V153H915V258Z"/>
<path fill="#b8b8b8" d="M127 258V224H133V258ZM151 258V118H157V258ZM170 258V153H177V258ZM221 258V153H239V258ZM658 258V153H662V224H700V258ZM709 258V188H728V153H742V258ZM828 258V224H850V188H868V118H897V258ZM997 258V118H1003V258ZM1097 258V118H1110V153H1116V258ZM1180 258V153H1195V188H1205V258ZM1480 258V118H1485V258Z"/>
<path fill="#f78787" d="M164 258V153H170V258ZM197 258V188H203V258ZM1078 258V188H1085V153H1092V118H1097V258ZM1205 258V153H1212V224H1240V258Z"/>
<path fill="#666666" d="M985 258V118H992V258ZM1022 258V224H1063V258ZM1073 258V188H1078V258Z"/>
<path fill="#85dd6a" d="M1116 258V153H1128V118H1137V153H1165V188H1175V153H1180V258Z"/>
<path fill="#8b8b8b" d="M19 278H1557V520H1500V453H1465V520H1455V590H1436V625H1343V590H1333V625H1240V590H1213V488H1195V453H1177V488H1157V453H1147V488H1117V520H1110V453H1097V488H1083V520H1073V590H1037V553H1027V520H1017V453H1003V418H988V488H980V453H962V488H950V553H943V590H915V520H897V488H887V453H868V520H858V553H849V590H832V520H827V488H822V520H803V590H773V625H765V590H747V488H737V520H727V553H718V590H708V625H700V590H662V520H643V590H633V553H625V590H597V625H495V590H487V625H327V590H290V553H280V520H270V488H262V418H237V383H215V488H207V520H195V625H173V453H163V488H157V418H150V520H135V590H113V625H85V418H77V520H19Z"/>
<path fill="#f5a30c" d="M127 278H135V590H127ZM658 278H741V488H737V520H727V553H718V590H708V625H700V590H662V520H658ZM827 278H900V520H897V488H887V453H868V520H858V553H849V590H832V520H827ZM1487 278H1557V520H1500V453H1487Z"/>
<path fill="#f806c0" d="M155 278H163V488H155ZM220 278H237V383H220ZM993 278H1003V418H993Z"/>
<path fill="#f5333a" d="M173 278H181V625H173ZM1097 278H1208V488H1195V453H1177V488H1157V453H1147V488H1117V520H1110V453H1097Z"/>
<path fill="#2200ff" d="M1480 278H1487V453H1480Z"/>
<path fill="none" stroke="#555" stroke-width="2" vector-effect="non-scaling-stroke" d="M126 645V972M135 645V972M153 645V972M163 645V972M173 645V972M181 645V972M219 645V972M237 645V972M657 645V972M741 645V972M825 645V972M900 645V972M993 645V972M1002 645V972M1096 645V972M1208 645V972M1480 645V972M1487 645V972"/>
</g>

<!-- BL Delta -->
<g transform="translate(200,2540) scale(0.84183,0.33333)">
<path fill="#fab3ea" d="M14 68H1553V392H14Z"/>
<path fill="#fae3b8" d="M93 68H105V392H93ZM153 68H177V392H153ZM297 68H321V392H297ZM778 68H790V392H778ZM802 68H826V392H802ZM886 68H935V392H886ZM970 68H1042V392H970ZM1222 68H1270V392H1222ZM1319 68H1354V392H1319Z"/>
<path fill="#b3b3b3" d="M453 68H466V392H453ZM610 68H622V392H610ZM935 68H970V392H935ZM1283 68H1319V392H1283Z"/>
<path fill="#fbc6c6" d="M597 68H610V392H597Z"/>
<path fill="#dcdcdc" d="M718 68H731V392H718ZM741 68H766V392H741ZM1487 68H1553V392H1487Z"/>
<path fill="#b3b3ff" d="M1054 68H1079V392H1054ZM1475 68H1487V392H1475Z"/>
<path fill="#f964d8" d="M14 416H1553V740H14Z"/>
<path fill="#6666ff" d="M80 416H93V740H80ZM1452 416H1475V740H1452Z"/>
<path fill="#f9c86b" d="M140 416H153V740H140ZM188 416H201V740H188ZM790 416H814V740H790ZM1270 416H1319V740H1270Z"/>
<path fill="#b8b8b8" d="M1427 416H1452V740H1427Z"/>
<path fill="#f806c0" d="M14 760H1553V1107H14Z"/>
</g>

<!-- BR Delta -->
<g transform="translate(1890,2540) scale(0.84183,0.33333)">
<path fill="#dcdcdc" d="M19 68H1557V392H19Z"/>
<path fill="#fae3b8" d="M127 68H137V392H127ZM714 68H722V392H714ZM817 68H864V392H817ZM1468 68H1487V392H1468ZM1497 68H1505V392H1497Z"/>
<path fill="#b3b3b3" d="M630 68H640V392H630ZM649 68H658V392H649Z"/>
<path fill="#b3b3ff" d="M667 68H676V392H667ZM694 68H703V392H694ZM722 68H732V392H722ZM975 68H985V392H975ZM1487 68H1497V392H1487Z"/>
<path fill="#fab3ea" d="M703 68H714V392H703ZM1003 68H1021V392H1003Z"/>
<path fill="#b8b8b8" d="M19 416H1557V740H19Z"/>
<path fill="#f9c86b" d="M201 416H210V740H201ZM704 416H714V740H704ZM1460 416H1469V740H1460ZM1487 416H1497V740H1487Z"/>
<path fill="#6666ff" d="M658 416H667V740H658ZM1497 416H1557V740H1497Z"/>
<path fill="#8b8b8b" d="M19 760H1557V1107H19Z"/>
</g>
<path fill="none" stroke="#222" stroke-width="2" d="M1507 2909V3028M3201 2909V3027"/>

<!-- Delta rank labels -->
<text x="200" y="2628" font-size="20" text-anchor="end">3<tspan font-size="14" dy="-8">rd</tspan></text>
<text x="200" y="2743" font-size="20" text-anchor="end">2<tspan font-size="14" dy="-8">nd</tspan></text>
<text x="200" y="2862" font-size="20" text-anchor="end">1<tspan font-size="14" dy="-8">st</tspan></text>
<text x="1893" y="2628" font-size="20" text-anchor="end">3<tspan font-size="14" dy="-8">rd</tspan></text>
<text x="1893" y="2743" font-size="20" text-anchor="end">2<tspan font-size="14" dy="-8">nd</tspan></text>
<text x="1893" y="2862" font-size="20" text-anchor="end">1<tspan font-size="14" dy="-8">st</tspan></text>

<!-- footer -->
<text x="1480" y="3177" font-size="23" textLength="250" lengthAdjust="spacingAndGlyphs">© 7PartidasDigital, 2023</text>
<rect x="130" y="3181.5" width="3002" height="2" fill="#000"/>
</svg>
</body></html>
